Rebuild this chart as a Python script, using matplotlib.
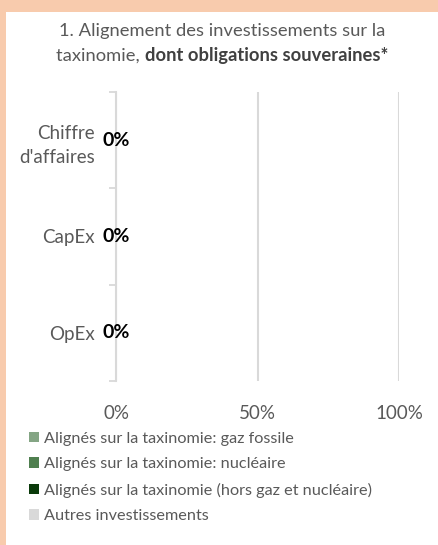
import matplotlib
matplotlib.use("Agg")
import matplotlib.pyplot as plt
from matplotlib.patches import Rectangle, Patch

plt.rcParams['font.family'] = ['Lato', 'DejaVu Sans']

# données
categories = ["Chiffre\nd'affaires", "CapEx", "OpEx"]
gaz_fossile = [0, 0, 0]
nucleaire = [0, 0, 0]
hors_gaz_nucleaire = [0, 0, 0]
autres = [0, 0, 0]
labels_series = ["Alignés sur la taxinomie: gaz fossile",
                 "Alignés sur la taxinomie: nucléaire",
                 "Alignés sur la taxinomie (hors gaz et nucléaire)",
                 "Autres investissements"]
couleurs = ['#84A584', '#4F7F4F', '#0A3A0A', '#D9D9D9']
xticks = [0, 50, 100]
xtick_labels = ['0%', '50%', '100%']
titre_1 = "1. Alignement des investissements sur la"
titre_2a = "taxinomie, "
titre_2b = "dont obligations souveraines*"

fig = plt.figure(figsize=(4.38, 5.45), dpi=100)
fig.patch.set_facecolor('#F8CBAD')
fig.patches.append(Rectangle((6 / 438, 0), 1, 1 - 12 / 545, transform=fig.transFigure,
                             facecolor='white', edgecolor='none', zorder=-10))

ax = fig.add_axes([116 / 438, 1 - 381 / 545, (399 - 116) / 438, (381 - 92) / 545])
ax.set_facecolor('none')

y = list(range(len(categories)))
left = [0] * len(categories)
series = [gaz_fossile, nucleaire, hors_gaz_nucleaire, autres]
bars_list = []
for vals, c in zip(series, couleurs):
    b = ax.barh(y, vals, left=left, color=c, height=0.6)
    bars_list.append(b)
    left = [l + v for l, v in zip(left, vals)]

# étiquettes 0%
ax.bar_label(bars_list[2], labels=[f"{v:.0f}%" for v in hors_gaz_nucleaire],
             label_type='center', fontsize=14, fontweight='bold', color='black')

ax.set_xlim(0, 100)
ax.set_ylim(len(categories) - 0.5, -0.5)
ax.set_yticks(y)
ax.set_yticklabels(categories, fontsize=13.5, color='#595959', linespacing=1.5)
ax.set_yticks([i - 0.5 for i in range(len(categories) + 1)], minor=True)
ax.tick_params(axis='y', which='major', length=0, pad=15)
ax.tick_params(axis='y', which='minor', length=5, color='#D9D9D9', width=1.3)
ax.set_xticks(xticks)
ax.set_xticklabels(xtick_labels, fontsize=13.5, color='#595959')
ax.tick_params(axis='x', length=0, pad=17)

ax.grid(axis='x', color='#D9D9D9', linewidth=1.5)
ax.set_axisbelow(True)
for s in ['top', 'right', 'bottom']:
    ax.spines[s].set_visible(False)
ax.spines['left'].set_color('#D9D9D9')
ax.spines['left'].set_linewidth(1.5)

# titre (2e ligne en partie en gras)
tsize = 13.2
fig.text(222 / 438, 1 - 31 / 545, titre_1, ha='center', va='center',
         fontsize=tsize, color='#595959')
r = fig.canvas.get_renderer()
ta = fig.text(0, 1 - 56 / 545, titre_2a, ha='left', va='center', fontsize=tsize, color='#595959')
tb = fig.text(0, 1 - 56 / 545, titre_2b, ha='left', va='center', fontsize=tsize,
              color='#404040', fontweight='bold')
wa = ta.get_window_extent(r).width
wb = tb.get_window_extent(r).width
x0 = 222 - (wa + wb) / 2
ta.set_x(x0 / 438)
tb.set_x((x0 + wa) / 438)

handles = [Patch(facecolor=c, edgecolor='none') for c in couleurs]
fig.legend(handles, labels_series, loc='upper left', bbox_to_anchor=(29 / 438, 1 - 432 / 545),
           frameon=False, fontsize=11.7, labelcolor='#595959', handlelength=0.6,
           handleheight=0.6, handletextpad=0.35, labelspacing=0.7, borderpad=0, borderaxespad=0)

plt.savefig('out.png', dpi=100)
